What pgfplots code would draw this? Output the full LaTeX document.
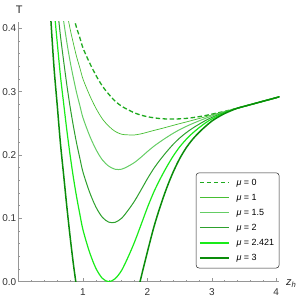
\documentclass[border=0pt]{standalone}
\usepackage{fontspec}
\setmainfont{Liberation Sans}
\usepackage{pgfplots}
\pgfplotsset{compat=1.18}
\definecolor{cA}{RGB}{30,170,30}
\definecolor{cB}{RGB}{70,190,50}
\definecolor{cC}{RGB}{100,205,100}
\definecolor{cD}{RGB}{45,160,45}
\definecolor{cE}{RGB}{25,235,25}
\definecolor{cF}{RGB}{10,140,10}
\definecolor{axgray}{RGB}{150,150,150}
\begin{document}
\begin{tikzpicture}
\path[use as bounding box] (-18.6bp,-18.3bp) rectangle (281.4bp,281.7bp);
\begin{axis}[
  at={(0,0)}, anchor=south west,
  scale only axis, width=260.8bp, height=259.7bp,
  xmin=0, xmax=4.05, ymin=0, ymax=0.41,
  axis lines*=left,
  axis line style={draw=axgray, line width=0.5bp, -},
  tick style={draw=axgray, line width=0.4bp},
  tick align=inside,
  major tick length=3.2bp, minor tick length=1.8bp,
  xtick={0,1,2,3,4}, xticklabels={,1,2,3,4},
  ytick={0,0.1,0.2,0.3,0.4},
  minor x tick num=4, minor y tick num=4,
  /pgf/number format/assume math mode=true,
  yticklabel style={/pgf/number format/.cd, fixed, fixed zerofill, precision=1, /tikz/.cd, inner sep=0pt, xshift=-2.2bp},
  xticklabel style={inner sep=0pt, yshift=-7.0bp},
  ticklabel style={font=\fontsize{10}{12}\selectfont, text=black!80},
  legend style={at={(1,0.0516)}, anchor=south east, draw=black!85, line width=0.5bp,
     rounded corners=3bp, font=\fontsize{9}{10.5}\selectfont, inner xsep=3bp, inner ysep=4bp,
     row sep=3.4bp, /tikz/every odd column/.append style={column sep=5bp}},
  legend cell align=left,
  legend image code/.code={\draw[#1] (0bp,0bp) -- (29bp,0bp);},
]
\addplot[cA, line width=1.3bp, dash pattern=on 4.5bp off 2.5bp, smooth] coordinates {
(0.80,0.440) (0.85,0.420) (0.90,0.401) (0.95,0.3855) (1.00,0.369) (1.10,0.346) (1.20,0.326) (1.30,0.309) (1.40,0.296) (1.50,0.285) (1.60,0.277) (1.70,0.2715) (1.80,0.2665) (1.90,0.263) (2.00,0.2605) (2.10,0.2588) (2.20,0.2575) (2.30,0.2569) (2.40,0.2568) (2.50,0.2571) (2.60,0.2578) (2.70,0.2590) (2.80,0.2605) (2.90,0.2623) (3.00,0.2645) (3.10,0.2667) (3.20,0.2690) (3.30,0.2714) (3.40,0.2740) (3.60,0.2795) (3.80,0.2850) (4.00,0.2905) (4.05,0.2920)};
\addlegendentry{{\itshape μ} = 0}
\addplot[cB, line width=0.7bp, smooth] coordinates {
(0.70,0.456) (0.75,0.4255) (0.80,0.399) (0.85,0.3765) (0.90,0.3555) (0.95,0.338) (1.00,0.320) (1.10,0.295) (1.20,0.274) (1.30,0.2572) (1.40,0.2455) (1.50,0.2372) (1.60,0.2328) (1.70,0.2318) (1.80,0.2317) (1.90,0.2334) (2.00,0.2360) (2.10,0.2388) (2.20,0.2413) (2.30,0.2440) (2.40,0.2468) (2.50,0.2495) (2.60,0.2521) (2.70,0.2548) (2.80,0.2575) (2.90,0.2603) (3.00,0.2632) (3.10,0.2659) (3.20,0.2686) (3.30,0.2713) (3.40,0.2740) (3.60,0.2795) (3.80,0.2850) (4.00,0.2905) (4.05,0.2920)};
\addlegendentry{{\itshape μ} = 1}
\addplot[cC, line width=1.0bp, smooth] coordinates {
(0.65,0.4475) (0.70,0.411) (0.75,0.3774) (0.80,0.3477) (0.85,0.3221) (0.90,0.2986) (0.95,0.2786) (1.00,0.2587) (1.10,0.2312) (1.20,0.209) (1.30,0.1924) (1.40,0.1824) (1.50,0.1775) (1.60,0.1776) (1.70,0.1822) (1.80,0.1882) (1.90,0.1964) (2.00,0.2054) (2.10,0.2138) (2.20,0.2211) (2.30,0.2279) (2.40,0.2343) (2.50,0.2400) (2.60,0.2450) (2.70,0.2496) (2.80,0.2538) (2.90,0.2578) (3.00,0.2616) (3.10,0.2649) (3.20,0.2681) (3.30,0.2711) (3.40,0.2740) (3.60,0.2795) (3.80,0.2850) (4.00,0.2905) (4.05,0.2920)};
\addlegendentry{{\itshape μ} = 1.5}
\addplot[cD, line width=1.0bp, smooth] coordinates {
(0.60,0.436) (0.65,0.388) (0.70,0.348) (0.75,0.310) (0.80,0.276) (0.85,0.246) (0.90,0.219) (0.95,0.1955) (1.00,0.173) (1.10,0.142) (1.20,0.118) (1.30,0.1018) (1.40,0.094) (1.50,0.0938) (1.60,0.1002) (1.70,0.1127) (1.80,0.1273) (1.90,0.1446) (2.00,0.1625) (2.10,0.1788) (2.20,0.1927) (2.30,0.2053) (2.40,0.2168) (2.50,0.2267) (2.60,0.2350) (2.70,0.2422) (2.80,0.2485) (2.90,0.2543) (3.00,0.2593) (3.10,0.2635) (3.20,0.2674) (3.30,0.2708) (3.40,0.2740) (3.60,0.2795) (3.80,0.2850) (4.00,0.2905) (4.05,0.2920)};
\addlegendentry{{\itshape μ} = 2}
\addplot[cE, line width=1.2bp, smooth] coordinates {
(0.55,0.432) (0.60,0.3774) (0.65,0.3247) (0.70,0.281) (0.75,0.2384) (0.80,0.1997) (0.85,0.165) (0.90,0.1343) (0.95,0.1071) (1.00,0.0818) (1.10,0.0471) (1.20,0.0212) (1.30,0.0054) (1.40,0.0000) (1.50,0.0048) (1.60,0.0179) (1.70,0.0388) (1.80,0.0625) (1.90,0.0895) (2.00,0.1169) (2.10,0.1416) (2.20,0.1625) (2.30,0.1813) (2.40,0.1982) (2.50,0.2126) (2.60,0.2244) (2.70,0.2344) (2.80,0.2429) (2.90,0.2506) (3.00,0.2569) (3.10,0.2620) (3.20,0.2667) (3.30,0.2705) (3.40,0.2740) (3.60,0.2795) (3.80,0.2850) (4.00,0.2905) (4.05,0.2920)};
\addlegendentry{{\itshape μ} = 2.421}
\addplot[cF, line width=1.5bp, smooth] coordinates {
(0.45,0.506) (0.50,0.4155) (0.55,0.338) (0.60,0.2785) (0.65,0.218) (0.70,0.168) (0.75,0.1175) (0.80,0.071) (0.85,0.0285) (0.90,-0.0085) (0.95,-0.042) (1.00,-0.072) (1.10,-0.113) (1.20,-0.142) (1.30,-0.157) (1.40,-0.1585) (1.50,-0.147) (1.60,-0.1228) (1.70,-0.086) (1.80,-0.036) (1.90,0.006) (2.00,0.047) (2.10,0.086) (2.20,0.119) (2.30,0.148) (2.40,0.173) (2.50,0.194) (2.60,0.211) (2.70,0.2245) (2.80,0.2355) (2.90,0.2450) (3.00,0.2535) (3.10,0.2600) (3.20,0.2655) (3.30,0.2700) (3.40,0.2740) (3.60,0.2795) (3.80,0.2850) (4.00,0.2905) (4.05,0.2920)};
\addlegendentry{{\itshape μ} = 3}
\end{axis}
\node[anchor=base west, inner sep=0pt, font=\fontsize{11}{13}\selectfont, text=black!85] at (-2.8bp,268.4bp) {T};
\node[anchor=base west, inner sep=0pt, font=\fontsize{11}{13}\selectfont, text=black!85] at (267.4bp,-4bp) {\textit{z}\textsubscript{\textit{h}}};
\end{tikzpicture}
\end{document}
